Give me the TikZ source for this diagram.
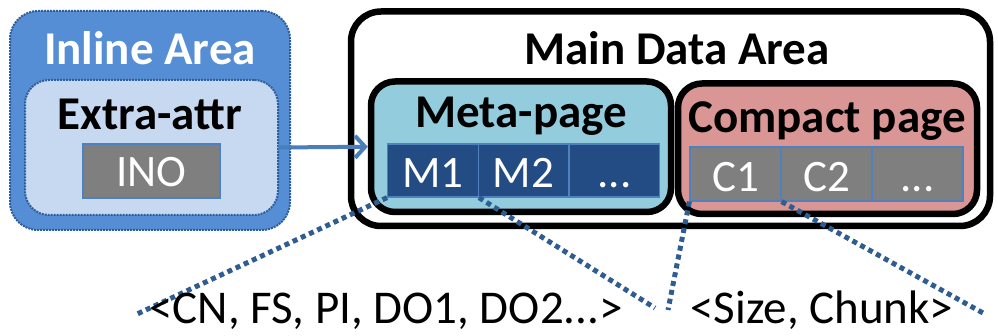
\documentclass[tikz,border=0pt]{standalone}
\usepackage{fontspec}
\setmainfont{Carlito}
\usetikzlibrary{arrows.meta}
\definecolor{inlineFill}{HTML}{558ED5}
\definecolor{inlineBorder}{HTML}{2E5D9C}
\definecolor{extraFill}{HTML}{C6D9F1}
\definecolor{metaFill}{HTML}{93CDDD}
\definecolor{compactFill}{HTML}{D99694}
\definecolor{mcellFill}{HTML}{234C84}
\definecolor{cellBorder}{HTML}{4F81BD}
\definecolor{cellGray}{HTML}{7F7F7F}
\definecolor{arrowBlue}{HTML}{4A7EBB}
\definecolor{dotBlue}{HTML}{2F5C91}
\tikzset{
  areabox/.style={draw=inlineBorder, densely dotted, line width=2pt, rounded corners=28pt, inner sep=0pt, outer sep=0pt},
  pagebox/.style={draw=black, line width=6.5pt, rounded corners=24pt, inner sep=0pt},
  cell/.style={draw=cellBorder, line width=1.2pt, inner sep=0pt},
  heading/.style={anchor=base, inner sep=0pt, font=\bfseries\fontsize{47}{56}\selectfont},
  label/.style={anchor=base, inner sep=0pt, font=\fontsize{47}{56}\selectfont},
  celltext/.style={anchor=base, inner sep=0pt, text=white, font=\fontsize{45}{54}\selectfont},
  zoomline/.style={draw=dotBlue, line width=5pt, dash pattern=on 5pt off 4pt}
}
\begin{document}
\begin{tikzpicture}[x=1pt,y=-1pt]
\useasboundingbox (0,0) rectangle (998,336);
% Inline area
\node[areabox, fill=inlineFill, minimum width=280pt, minimum height=219pt] (inl) at (150,120.5) {};
\node[areabox, fill=extraFill, rounded corners=24pt, minimum width=253pt, minimum height=135pt] (extra) at (151.5,147.5) {};
\node[heading, text=white] (inltitle) at (150,65) {Inline Area};
\node[heading] (extratitle) at (150,130) {Extra-attr};
\node[cell, fill=cellGray, minimum width=137pt, minimum height=54pt] (ino) at (151.5,171) {};
\node[celltext] (inotext) at (151.5,187) {INO};
% Main data area
\node[pagebox, fill=white, rounded corners=30pt, minimum width=639pt, minimum height=214.5pt] (main) at (670.5,118.75) {};
\node[heading] (maintitle) at (677,65) {Main Data Area};
\node[pagebox, fill=metaFill, minimum width=300pt, minimum height=130.5pt] (meta) at (521,146.75) {};
\node[pagebox, fill=compactFill, minimum width=299pt, minimum height=130.5pt] (compact) at (827.5,148.75) {};
\node[heading] (metatitle) at (521,128) {Meta-page};
\node[heading] (compacttitle) at (827,133) {Compact page};
% cells
\node[cell, fill=mcellFill, minimum width=90.7pt, minimum height=53pt] (m1) at (433,170.5) {};
\node[cell, fill=mcellFill, minimum width=90.7pt, minimum height=53pt] (m2) at (523.5,170.5) {};
\node[cell, fill=mcellFill, minimum width=90.7pt, minimum height=53pt] (m3) at (614.5,170.5) {};
\node[celltext] (m1text) at (433,188) {M1};
\node[celltext] (m2text) at (523.5,188) {M2};
\node[celltext] (m3text) at (614.5,188) {...};
\node[cell, fill=cellGray, minimum width=91pt, minimum height=54pt] (c1) at (735.5,174) {};
\node[cell, fill=cellGray, minimum width=91pt, minimum height=54pt] (c2) at (826.5,174) {};
\node[cell, fill=cellGray, minimum width=91pt, minimum height=54pt] (c3) at (917.5,174) {};
\node[celltext] (c1text) at (735.5,192) {C1};
\node[celltext] (c2text) at (826.5,192) {C2};
\node[celltext] (c3text) at (917.5,192) {...};
% arrow
\draw[draw=arrowBlue, line width=4pt, -{Straight Barb[length=10pt,width=22pt,line width=4pt]}] (extra.east) -- (meta.west);
% zoom lines
\coordinate (l1) at (135,315);
\coordinate (l2) at (655,308);
\coordinate (l3) at (668,310);
\coordinate (l4) at (983,313);
\draw[zoomline] (m1.south west) -- (l1);
\draw[zoomline] (m1.south east) -- (l2);
\draw[zoomline] (c1.south west) -- (l3);
\draw[zoomline] (c1.south east) -- (l4);
% labels
\node[label] (mlabel) at (386,324) {<CN, FS, PI, DO1, DO2...>};
\node[label] (clabel) at (822,324) {<Size, Chunk>};
\end{tikzpicture}
\end{document}
